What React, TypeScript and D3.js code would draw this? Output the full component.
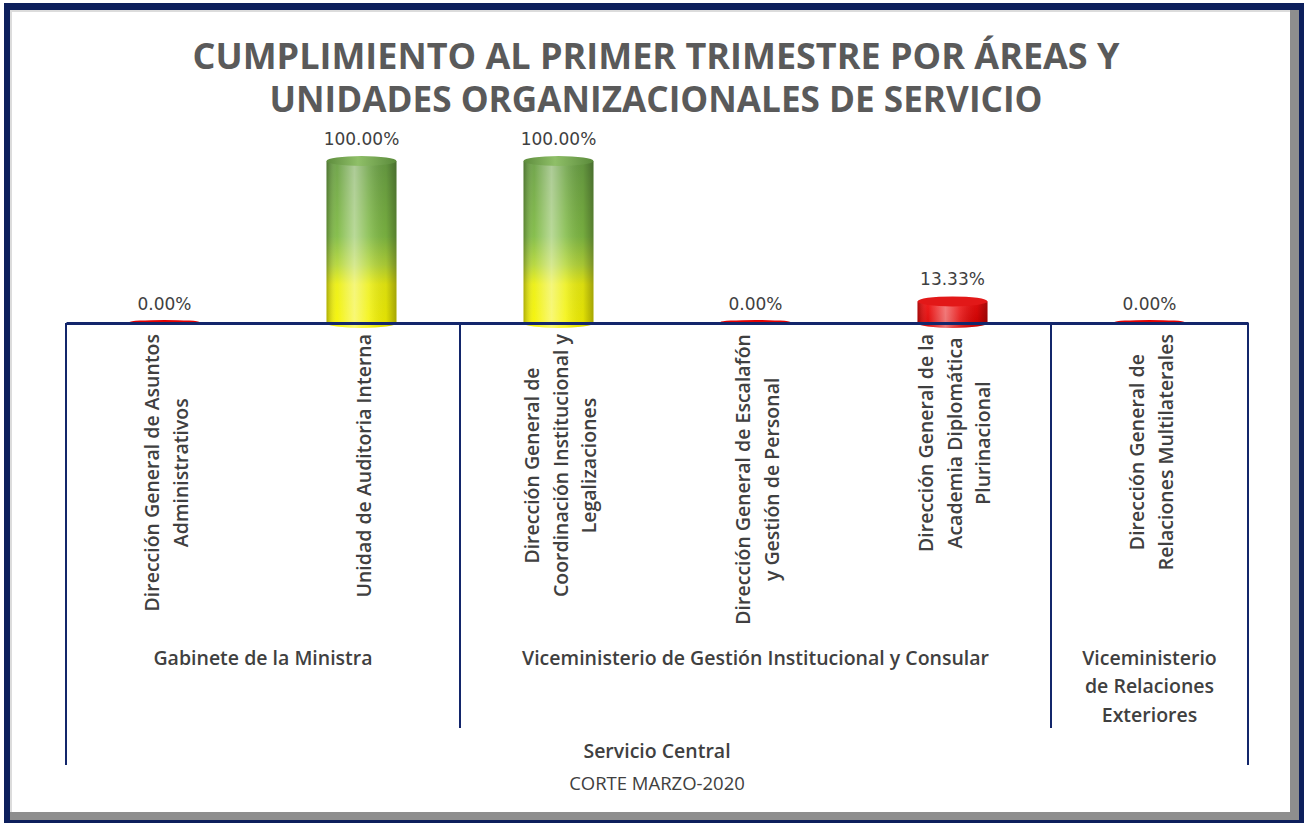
import React, { useEffect, useRef } from "react";
import * as d3 from "d3";

// data
const categories = [
  ["Dirección General de Asuntos", "Administrativos"],
  ["Unidad de Auditoria Interna"],
  ["Dirección General de", "Coordinación Institucional y", "Legalizaciones"],
  ["Dirección General de Escalafón", "y Gestión de Personal"],
  ["Dirección General de la", "Academia Diplomática", "Plurinacional"],
  ["Dirección General de", "Relaciones Multilaterales"],
];
const values = [0, 100, 100, 0, 13.33, 0];
const groupNames = [
  ["Gabinete de la Ministra"],
  ["Viceministerio de Gestión Institucional y Consular"],
  ["Viceministerio", "de Relaciones", "Exteriores"],
];
const groupSizes = [2, 3, 1];
const titleLines = [
  "CUMPLIMIENTO AL PRIMER TRIMESTRE POR ÁREAS Y",
  "UNIDADES ORGANIZACIONALES DE SERVICIO",
];
const outerGroup = "Servicio Central";
const footNote = "CORTE MARZO-2020";

const W = 1304;
const H = 823;
const NAVY = "#13266b";
const TEXT = "#404040";

function App() {
  const svgRef = useRef<SVGSVGElement>(null);

  useEffect(() => {
    document.body.style.margin = "0";
    const svg = d3.select(svgRef.current);
    svg.selectAll("*").remove();

    // frame
    svg.append("rect").attr("x", 4).attr("y", 3).attr("width", W - 4).attr("height", H - 3).attr("fill", "#0d1f5c");
    svg.append("rect").attr("x", 10).attr("y", 10).attr("width", 1289).attr("height", 810).attr("fill", "#8e8e8e");
    svg.append("rect").attr("x", 10).attr("y", 10).attr("width", 1280).attr("height", 802).attr("fill", "#dcdcdc");
    svg.append("rect").attr("x", 12).attr("y", 12).attr("width", 1278).attr("height", 800).attr("fill", "#ffffff");

    const defs = svg.append("defs");
    const green = defs.append("linearGradient").attr("id", "gGreen").attr("x1", 0).attr("y1", 0).attr("x2", 0).attr("y2", 1);
    [
      [0, "#6aa044"],
      [0.45, "#80bb44"],
      [0.62, "#b4d638"],
      [0.74, "#ecef10"],
      [1, "#f6f400"],
    ].forEach(([o, c]) => green.append("stop").attr("offset", o as number).attr("stop-color", c as string));

    const shade = defs.append("linearGradient").attr("id", "gShade").attr("x1", 0).attr("y1", 0).attr("x2", 1).attr("y2", 0);
    [
      [0, "#000", 0.28],
      [0.15, "#fff", 0.05],
      [0.4, "#fff", 0.45],
      [0.6, "#fff", 0.15],
      [0.85, "#000", 0.08],
      [1, "#000", 0.32],
    ].forEach(([o, c, a]) =>
      shade.append("stop").attr("offset", o as number).attr("stop-color", c as string).attr("stop-opacity", a as number)
    );

    const red = defs.append("linearGradient").attr("id", "gRed").attr("x1", 0).attr("y1", 0).attr("x2", 0).attr("y2", 1);
    red.append("stop").attr("offset", 0).attr("stop-color", "#f01010");
    red.append("stop").attr("offset", 1).attr("stop-color", "#d80000");

    const capGreen = defs.append("linearGradient").attr("id", "gCapGreen").attr("x1", 0).attr("y1", 0).attr("x2", 1).attr("y2", 0);
    capGreen.append("stop").attr("offset", 0).attr("stop-color", "#5d8c3c");
    capGreen.append("stop").attr("offset", 0.45).attr("stop-color", "#8fbf68");
    capGreen.append("stop").attr("offset", 1).attr("stop-color", "#5a8a3a");

    // title, one text with a tspan per line
    const title = svg
      .append("text")
      .attr("text-anchor", "middle")
      .attr("font-family", "'Open Sans', sans-serif")
      .attr("font-weight", 700)
      .attr("font-size", 36)
      .attr("fill", "#5a5a5a");
    titleLines.forEach((t, i) => {
      title
        .append("tspan")
        .attr("x", 656)
        .attr("y", 69 + i * 43)
        .attr("textLength", i === 0 ? 927 : 773)
        .attr("lengthAdjust", "spacingAndGlyphs")
        .text(t);
    });

    const x = d3
      .scaleBand<number>()
      .domain(d3.range(categories.length))
      .range([66, 1248])
      .padding(0);
    const y = d3.scaleLinear().domain([0, 100]).range([323, 161]);
    const bw = x.bandwidth() * 0.355;
    const base = y(0);

    // bars
    const bars = svg.append("g");
    values.forEach((v, i) => {
      const cx = x(i)! + x.bandwidth() / 2;
      const x0 = cx - bw / 2;
      const x1 = cx + bw / 2;
      const rx = bw / 2;
      const yt = y(v);
      const ry = v === 0 ? 2 : 5;
      if (v === 0) {
        bars.append("ellipse").attr("cx", cx).attr("cy", base - 1).attr("rx", rx).attr("ry", ry).attr("fill", "#e00000");
      } else {
        const body = `M${x0},${yt} V${base} A${rx},${ry} 0 0 0 ${x1},${base} V${yt} Z`;
        const fill = v >= 100 ? "url(#gGreen)" : "url(#gRed)";
        bars.append("path").attr("d", body).attr("fill", fill);
        bars.append("path").attr("d", body).attr("fill", "url(#gShade)");
        bars
          .append("ellipse")
          .attr("cx", cx)
          .attr("cy", yt)
          .attr("rx", rx)
          .attr("ry", ry)
          .attr("fill", v >= 100 ? "url(#gCapGreen)" : "#e21818");
      }
      bars
        .append("text")
        .attr("x", cx)
        .attr("y", yt - ry - 11)
        .attr("text-anchor", "middle")
        .attr("font-family", "'DejaVu Sans', sans-serif")
        .attr("font-size", 17)
        .attr("fill", TEXT)
        .text(`${v.toFixed(2)}%`);
    });

    // axis line
    const axis = d3.axisBottom(x).tickSize(0).tickFormat(() => "");
    svg
      .append("g")
      .attr("transform", `translate(0,${base})`)
      .call(axis)
      .call((g) => g.select(".domain").attr("stroke", NAVY).attr("stroke-width", 3));

    // group dividers
    const bounds = [0];
    groupSizes.forEach((s) => bounds.push(bounds[bounds.length - 1] + s));
    const edge = (k: number) => (k >= categories.length ? x.range()[1] : x(k)!);
    bounds.forEach((b, i) => {
      const outer = i === 0 || i === bounds.length - 1;
      svg
        .append("line")
        .attr("x1", edge(b))
        .attr("x2", edge(b))
        .attr("y1", base)
        .attr("y2", outer ? 765 : 728)
        .attr("stroke", NAVY)
        .attr("stroke-width", 2);
    });

    // rotated category labels
    const labels = svg
      .append("g")
      .attr("font-family", "'Open Sans', sans-serif")
      .attr("font-weight", 600)
      .attr("font-size", 19.5)
      .attr("fill", TEXT);
    categories.forEach((lines, i) => {
      const cx = x(i)! + x.bandwidth() / 2 + 1.5;
      const nodes = lines.map((l) =>
        labels.append("text").attr("text-anchor", "middle").attr("dominant-baseline", "central").text(l)
      );
      const maxLen = d3.max(nodes, (n) => (n.node() as SVGTextElement).getComputedTextLength()) || 0;
      const cy = 334 + maxLen / 2;
      nodes.forEach((n, k) => {
        const lx = cx + (k - (lines.length - 1) / 2) * 28.5;
        n.attr("transform", `translate(${lx},${cy}) rotate(-90)`);
      });
    });

    // group labels
    const gl = svg
      .append("g")
      .attr("font-family", "'Open Sans', sans-serif")
      .attr("font-weight", 600)
      .attr("font-size", 19.5)
      .attr("fill", TEXT)
      .attr("text-anchor", "middle");
    groupNames.forEach((lines, i) => {
      const gx = (edge(bounds[i]) + edge(bounds[i + 1])) / 2;
      lines.forEach((l, k) => {
        gl.append("text").attr("x", gx).attr("y", 657 + k * 28.5).attr("dominant-baseline", "central").text(l);
      });
    });
    const mid = (x.range()[0] + x.range()[1]) / 2;
    gl.append("text").attr("x", mid).attr("y", 750).attr("dominant-baseline", "central").text(outerGroup);
    svg
      .append("text")
      .attr("x", mid)
      .attr("y", 782)
      .attr("dominant-baseline", "central")
      .attr("text-anchor", "middle")
      .attr("font-family", "'Open Sans', sans-serif")
      .attr("font-size", 18.5)
      .attr("fill", TEXT)
      .text(footNote);
  }, []);

  return <svg ref={svgRef} width={W} height={H} style={{ display: "block" }} />;
}

export default App;
